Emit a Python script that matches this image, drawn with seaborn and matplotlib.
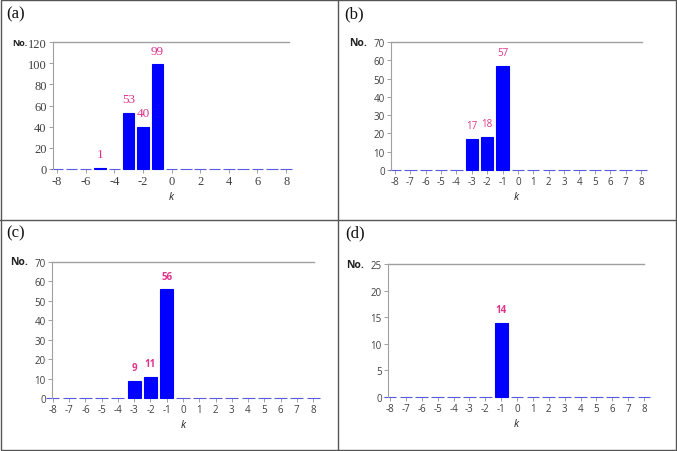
import numpy as np
import pandas as pd
import matplotlib
matplotlib.use("Agg")
import matplotlib.pyplot as plt
from matplotlib.patches import Rectangle
from matplotlib.lines import Line2D
import seaborn as sns

k_values = list(range(-8, 9))
counts_a = [0, 0, 0, 1, 0, 53, 40, 99, 0, 0, 0, 0, 0, 0, 0, 0, 0]
counts_b = [0, 0, 0, 0, 0, 17, 18, 57, 0, 0, 0, 0, 0, 0, 0, 0, 0]
counts_c = [0, 0, 0, 0, 0, 9, 11, 56, 0, 0, 0, 0, 0, 0, 0, 0, 0]
counts_d = [0, 0, 0, 0, 0, 0, 0, 14, 0, 0, 0, 0, 0, 0, 0, 0, 0]

panel_labels = ["(a)", "(b)", "(c)", "(d)"]
y_max = [120, 70, 70, 25]
y_step = [20, 10, 10, 5]
x_step = [2, 1, 1, 1]

BAR = "#0000ff"
PINK = "#e0358c"
GRAY = "#a0a0a0"
TXT = "#404040"

sns.set_theme(style="white")
plt.rcParams["axes.unicode_minus"] = False

W, H = 677, 452
fig = plt.figure(figsize=(W / 100, H / 100), dpi=100)

# axes boxes in pixels: left, right, top, bottom(zero line), xlim
boxes = [
    (53, 289, 43, 170, (-8.28, 8.2)),
    (391, 642, 43, 171, (-8.26, 8.07)),
    (52, 314, 263, 399, (-8.06, 8.06)),
    (388, 644, 265, 398, (-8.13, 8.0)),
]
label_pos = [(16, 14), (354, 14), (16, 233), (355, 233)]

all_counts = [counts_a, counts_b, counts_c, counts_d]

for i, counts in enumerate(all_counts):
    l, r, t, b, xl = boxes[i]
    ax = fig.add_axes([l / W, 1 - b / H, (r - l) / W, (b - t) / H])
    df = pd.DataFrame({"k": k_values, "n": counts})

    serif = i == 0
    fam = "Liberation Serif" if serif else "Open Sans"
    tsize = 9 if serif else 7

    sns.barplot(data=df, x="k", y="n", native_scale=True, width=0.8,
                color=BAR, saturation=1, edgecolor=BAR, linewidth=0.8,
                ax=ax, errorbar=None)
    for p in ax.patches:
        p.set_clip_on(False)
        if p.get_height() == 0:
            p.set_edgecolor("#5a5ae0")

    ax.set_xlim(*xl)
    ax.set_ylim(0, y_max[i])
    xt = np.arange(-8, 9, x_step[i])
    yt = np.arange(0, y_max[i] + 1, y_step[i])
    ax.set_xticks(xt, labels=[str(v) for v in xt], fontfamily=fam,
                  fontsize=tsize, color=TXT)
    ax.set_yticks(yt, labels=[str(v) for v in yt], fontfamily=fam,
                  fontsize=tsize, color=TXT)

    for s in ["right", "bottom"]:
        ax.spines[s].set_visible(False)
    ax.spines["top"].set_color(GRAY)
    ax.spines["top"].set_linewidth(1.0)
    ax.spines["left"].set_color(GRAY)
    ax.spines["left"].set_linewidth(0.8)

    ax.tick_params(axis="both", direction="out", length=3, width=0.7,
                   color=GRAY, pad=1.5)
    ax.tick_params(axis="x", bottom=True, pad=1)
    ax.tick_params(axis="y", left=True)

    ax.set_xlabel("k", style="italic", fontsize=7.5, labelpad=3.5,
                  family="Open Sans", color="#222222")
    ax.set_ylabel("")

    ax.annotate("No.", xy=(0, y_max[i]), xycoords=("axes fraction", "data"),
                xytext=(-18 if serif else -17, 0), textcoords="offset points",
                ha="right", va="center", fontsize=7.5 if i else 6.5,
                fontweight="bold", family="Open Sans", color="#222222")

    for kv, n in zip(k_values, counts):
        if n > 0:
            ax.annotate(str(n), xy=(kv, n), xytext=(0, 5.5),
                        textcoords="offset points", ha="center", va="bottom",
                        color=PINK, fontfamily=fam,
                        fontsize=9.5 if serif else 7,
                        fontweight="bold" if i >= 2 else "normal")

    fig.text(label_pos[i][0] / W, 1 - label_pos[i][1] / H, panel_labels[i],
             family="Liberation Serif", fontsize=12, ha="center",
             va="center", color="#111111")

# panel frame
frame_c = "#555555"
fig.add_artist(Rectangle((0.002, 0.003), 0.996, 0.995, transform=fig.transFigure,
                         fill=False, edgecolor=frame_c, linewidth=1.0))
fig.add_artist(Line2D([338 / W, 338 / W], [0, 1], transform=fig.transFigure,
                      color=frame_c, linewidth=1.0))
fig.add_artist(Line2D([0, 1], [1 - 221 / H, 1 - 221 / H], transform=fig.transFigure,
                      color=frame_c, linewidth=1.0))

fig.savefig("out.png", dpi=100)
